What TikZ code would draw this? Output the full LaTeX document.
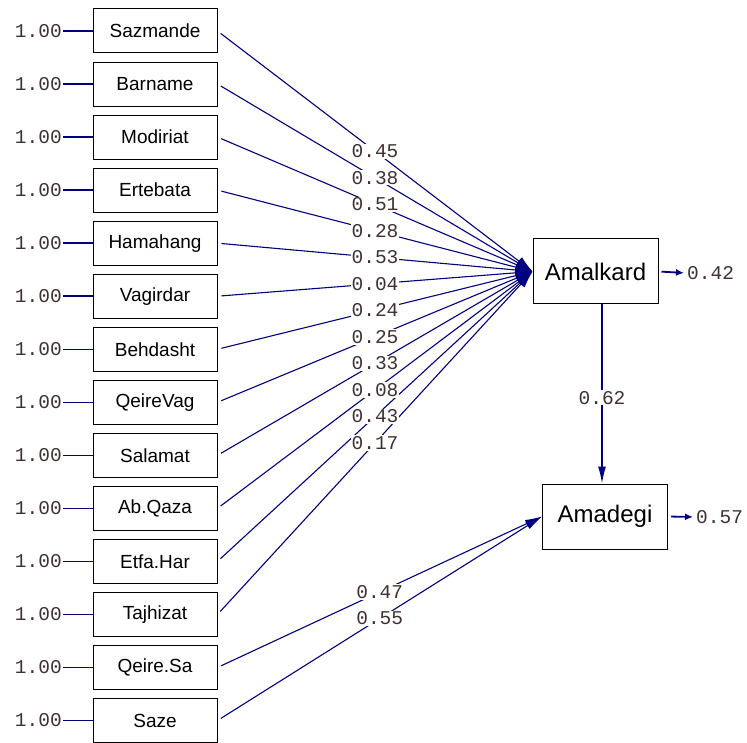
\documentclass[tikz,border=0pt]{standalone}
\usepackage{fontspec}
\setmainfont{Liberation Sans}
\newfontfamily\monofnt{Liberation Mono}
\usetikzlibrary{arrows.meta}
\definecolor{pathblue}{RGB}{0,0,128}
\definecolor{numcol}{RGB}{64,48,48}
\begin{document}
\begin{tikzpicture}[x=1pt,y=-1pt,
  obs/.style={draw=black, line width=1pt, minimum width=124pt, minimum height=44pt, inner sep=0pt, font=\fontsize{19}{19}\selectfont},
  lat/.style={draw=black, line width=1pt, minimum width=125pt, minimum height=65pt, inner sep=0pt, font=\fontsize{24}{24}\selectfont},
  num/.style={text=numcol, font=\monofnt\fontsize{19.5}{20}\selectfont, inner sep=1pt},
  numw/.style={num, fill=white},
  conn/.style={draw=pathblue, line width=1.1pt},
  reg/.style={conn, -{Latex[length=17pt,width=10pt]}, shorten <=4pt},
  reg2/.style={conn, -{Latex[length=17pt,width=8pt]}, shorten <=4pt},
  errarrow/.style={conn, line width=1.8pt, -{Latex[length=8pt,width=7pt]}, shorten <=3pt, shorten >=2pt}
]
\useasboundingbox (0,0) rectangle (747,743);

% observed boxes
\foreach \name [count=\i from 0] in {Sazmande,Barname,Modiriat,Ertebata,Hamahang,Vagirdar,Behdasht,QeireVag,Salamat,Ab.Qaza,Etfa.Har,Tajhizat,Qeire.Sa,Saze}{
  \pgfmathsetmacro{\yy}{31+53.04*\i}
  \node[obs] (b\i) at (155,\yy) {\name};
  \node[num, anchor=east] (u\i) at (63,\yy) {1.00};
  \draw[conn, line width=1.4pt] (u\i.east) -- (b\i.west);
}

% latent boxes
\node[lat] (amal) at (595.5,271.5) {Amalkard};
\node[lat] (amad) at (605,516.5) {Amadegi};

% paths to Amalkard
\foreach \i in {0,...,11}{
  \draw[reg] (b\i.east) -- (amal.west);
}
% paths to Amadegi
\foreach \i in {12,13}{
  \draw[reg2] (b\i.east) -- (amad.west);
}
% Amalkard -> Amadegi
\coordinate (vx) at (602,0);
\draw[reg2, shorten <=0pt, line width=1.4pt] (amal.south -| vx) -- (amad.north -| vx);

% coefficient labels
\foreach \i/\v in {0/0.45,1/0.38,2/0.51,3/0.28,4/0.53,5/0.04,6/0.24,7/0.25,8/0.33,9/0.08,10/0.43,11/0.17}{
  \path (b\i.east) -- (amal.west) node[numw, pos=0.5] {\v};
}
\path (b12.east) -- (amad.west) node[numw, pos=0.5] {0.47};
\path (b13.east) -- (amad.west) node[numw, pos=0.5] {0.55};
\path (amal.south -| vx) -- (amad.north -| vx) node[numw, pos=0.52] {0.62};

% error variances
\node[num, anchor=west] (e1) at (686,273) {0.42};
\draw[errarrow] (amal.east) -- (e1.west);
\node[num, anchor=west] (e2) at (695,517) {0.57};
\draw[errarrow] (amad.east) -- (e2.west);
\end{tikzpicture}
\end{document}
